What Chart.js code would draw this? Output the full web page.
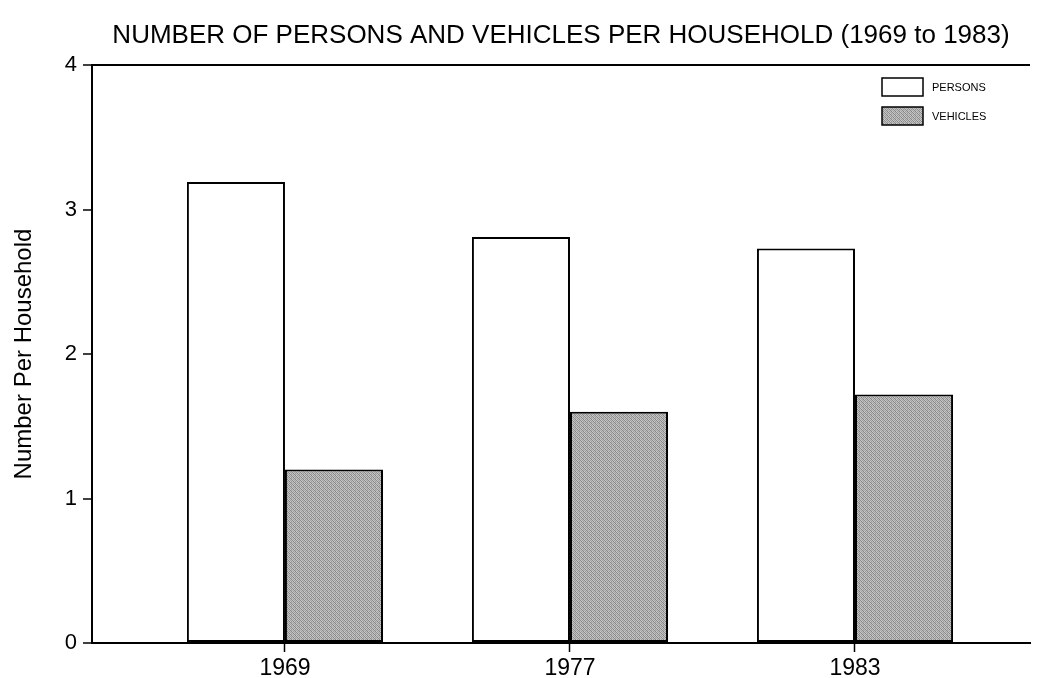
<!DOCTYPE html>
<html>
<head>
<meta charset="utf-8">
<script src="https://cdn.jsdelivr.net/npm/chart.js@4"></script>
<style>
  html, body { margin: 0; padding: 0; background: #fff; }
  #wrap { width: 1037px; height: 678px; }
</style>
</head>
<body>
<div id="wrap"><canvas id="householdChart"></canvas></div>
<script>
// Datos
const years = ['1969', '1977', '1983'];
const yearPos = [1, 2, 3];
const persons = [3.19, 2.81, 2.73];
const vehicles = [1.20, 1.60, 1.72];
const yTicks = [0, 1, 2, 3, 4];

const FONT = '"Liberation Sans", Arial, Helvetica, sans-serif';

// Trama gris punteada para VEHICLES
function makeStipple() {
  const c = document.createElement('canvas');
  c.width = 4; c.height = 4;
  const g = c.getContext('2d');
  const shades = [
    '#8e8e8e', '#c8c8c8', '#9e9e9e', '#bcbcbc',
    '#c2c2c2', '#808080', '#cccccc', '#969696',
    '#a6a6a6', '#c4c4c4', '#8a8a8a', '#b8b8b8',
    '#cacaca', '#9c9c9c', '#bebebe', '#848484'
  ];
  shades.forEach((s, i) => {
    g.fillStyle = s;
    g.fillRect(i % 4, Math.floor(i / 4), 1, 1);
  });
  return g.createPattern(c, 'repeat');
}
const stipple = makeStipple();

// Leyenda dentro del area del grafico (arriba a la derecha)
const boxLegend = {
  id: 'boxLegend',
  afterDraw(chart) {
    const { ctx, chartArea } = chart;
    const x = chartArea.right - 148;
    ctx.save();
    chart.data.datasets.forEach((ds, i) => {
      const top = chartArea.top + 13 + i * 29;
      ctx.fillStyle = ds.backgroundColor;
      ctx.fillRect(x, top, 41, 18);
      ctx.lineWidth = 1.5;
      ctx.strokeStyle = '#000';
      ctx.strokeRect(x, top, 41, 18);
      ctx.fillStyle = '#000';
      ctx.font = '11px ' + FONT;
      ctx.textBaseline = 'middle';
      ctx.fillText(ds.label, x + 50, top + 10);
    });
    ctx.restore();
  }
};

const ctx = document.getElementById('householdChart').getContext('2d');

new Chart(ctx, {
  type: 'bar',
  data: {
    datasets: [
      {
        label: 'PERSONS',
        data: persons.map((v, i) => ({ x: yearPos[i], y: v })),
        backgroundColor: '#ffffff',
        borderColor: '#000',
        borderWidth: 2,
        borderSkipped: false
      },
      {
        label: 'VEHICLES',
        data: vehicles.map((v, i) => ({ x: yearPos[i], y: v })),
        backgroundColor: stipple,
        borderColor: '#000',
        borderWidth: 2,
        borderSkipped: false
      }
    ]
  },
  options: {
    responsive: true,
    maintainAspectRatio: false,
    animation: false,
    categoryPercentage: 0.688,
    barPercentage: 1.0,
    layout: { padding: { left: 0, right: 7, top: 0, bottom: 0 } },
    plugins: {
      legend: { display: false },
      tooltip: { enabled: false },
      title: {
        display: true,
        fullSize: false,
        text: 'NUMBER OF PERSONS AND VEHICLES PER HOUSEHOLD (1969 to 1983)',
        color: '#000',
        font: { family: FONT, size: 26, weight: 'normal' },
        padding: { top: 20, bottom: 13.8 }
      }
    },
    scales: {
      x: {
        type: 'linear',
        min: 0.323,
        max: 3.614,
        offset: false,
        afterBuildTicks: s => { s.ticks = yearPos.map(v => ({ value: v })); },
        afterFit: s => { s.height = 35; },
        ticks: {
          color: '#000',
          padding: 3,
          font: { family: FONT, size: 23 },
          callback: v => years[yearPos.indexOf(v)]
        },
        grid: {
          offset: false,
          drawOnChartArea: false,
          drawTicks: true,
          tickLength: 9,
          tickColor: '#000',
          tickWidth: 1.5
        },
        border: { display: true, color: '#000', width: 2 }
      },
      y: {
        min: 0,
        max: 4,
        afterBuildTicks: s => { s.ticks = yTicks.map(v => ({ value: v })); },
        afterFit: s => { s.width = 92; },
        ticks: {
          color: '#000',
          padding: 6,
          font: { family: FONT, size: 22 }
        },
        grid: {
          drawOnChartArea: true,
          color: c => (c.tick && c.tick.value === 4 ? '#000' : 'rgba(0,0,0,0)'),
          lineWidth: 2,
          drawTicks: true,
          tickLength: 9,
          tickColor: '#000',
          tickWidth: 1.5
        },
        border: { display: true, color: '#000', width: 2 },
        title: {
          display: true,
          text: 'Number Per Household',
          color: '#000',
          font: { family: FONT, size: 24 },
          padding: { top: 10, bottom: 0 }
        }
      }
    }
  },
  plugins: [boxLegend]
});
</script>
</body>
</html>
